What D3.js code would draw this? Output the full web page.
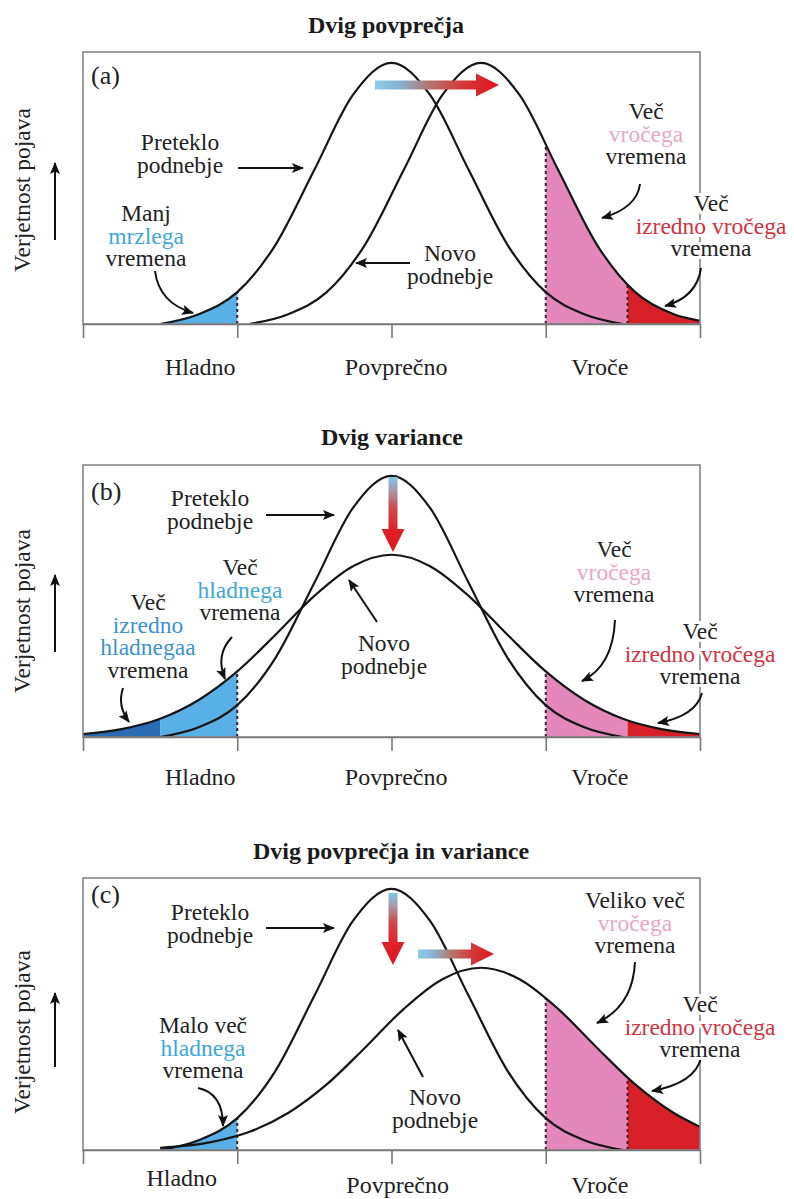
<!DOCTYPE html>
<html>
<head>
<meta charset="utf-8">
<title>Dvig povprečja in variance</title>
<script src="https://cdnjs.cloudflare.com/ajax/libs/d3/7.8.5/d3.min.js"></script>
<style>
	body { margin: 0; background: #fff; }
</style>
</head>
<body>
<div id="chart"></div>
<script>
(function () {
	'use strict';

	// x in temperature units (0 = povprečno), y = verjetnost (1 = top of panel)
	var xTicks = [-2, -1, 0, 1, 2];
	var tickLabels = ['Hladno', 'Povprečno', 'Vroče'];
	var panelTitles = ['Dvig povprečja', 'Dvig variance', 'Dvig povprečja in variance'];
	var panelLetters = ['(a)', '(b)', '(c)'];
	var yLabel = 'Verjetnost pojava';

	// preteklo podnebje - same curve in every panel
	var oldClimate = [[-1.5, 0], [-1.25, 0.036], [-1, 0.117], [-0.75, 0.293], [-0.5, 0.567], [-0.25, 0.842], [0, 0.96],
		[0.25, 0.842], [0.5, 0.567], [0.75, 0.293], [1, 0.117], [1.25, 0.036], [1.5, 0]];
	// novo podnebje
	var newClimateA = [[-0.92, 0], [-0.67, 0.036], [-0.42, 0.117], [-0.17, 0.293], [0.08, 0.567], [0.33, 0.842], [0.58, 0.96],
		[0.83, 0.842], [1.08, 0.567], [1.33, 0.293], [1.58, 0.117], [1.83, 0.036], [2, 0.012]];
	var newClimateB = [[-2, 0.011], [-1.75, 0.029], [-1.5, 0.067], [-1.25, 0.136], [-1, 0.241], [-0.75, 0.377], [-0.5, 0.519],
		[-0.25, 0.628], [0, 0.67], [0.25, 0.628], [0.5, 0.519], [0.75, 0.377], [1, 0.241], [1.25, 0.136], [1.5, 0.067],
		[1.75, 0.029], [2, 0.011]];
	var newClimateC = [[-1.5, 0.008], [-1.17, 0.029], [-0.92, 0.067], [-0.67, 0.136], [-0.42, 0.241], [-0.17, 0.377], [0.08, 0.519],
		[0.33, 0.628], [0.58, 0.67], [0.83, 0.628], [1.08, 0.519], [1.33, 0.377], [1.58, 0.241], [1.83, 0.136], [2, 0.085]];

	// class limits
	var extremeColdLimit = -1.5, coldLimit = -1, hotLimit = 1, extremeHotLimit = 1.53, axisEnd = 2;

	var BLUE = '#58b0e6', DARK_BLUE = '#2a6bb3', PINK = '#e488bb', RED = '#d71f27',
		TXT = '#222', TXT_BLUE = '#3ea6da', TXT_BLUE2 = '#3c92d0', TXT_PINK = '#eaa6c6', TXT_RED = '#d3323f';
	var FONT = '"Liberation Serif", "Times New Roman", Times, "DejaVu Serif", serif';

	var width = 794, height = 1199, panelHeight = 272;

	var svg = d3.select('#chart').append('svg')
		.attr('width', width)
		.attr('height', height)
		.attr('font-family', FONT)
		.style('font-family', FONT)
		.style('background', '#fff');
	var defs = svg.append('defs');

	var x = d3.scaleLinear().domain([-2, 2]).range([83, 700]);

	defs.append('marker')
		.attr('id', 'head')
		.attr('viewBox', '0 0 12 10')
		.attr('refX', 11)
		.attr('refY', 5)
		.attr('markerWidth', 13)
		.attr('markerHeight', 10)
		.attr('markerUnits', 'userSpaceOnUse')
		.attr('orient', 'auto')
		.append('path')
		.attr('d', 'M0,0 L12,5 L0,10 L2.5,5 z')
		.attr('fill', '#111');

	var panels = [
		{
			base: 324, titleY: 33, titleX: 386, letterY: 84,
			labelAt: [-1.24, 0.03, 1.35], labelY: [375, 375, 375],
			yLabelAt: 190, yArrow: [240, 163],
			fills: [
				{ curve: oldClimate, from: extremeColdLimit, to: coldLimit, color: BLUE },
				{ curve: newClimateA, from: hotLimit, to: extremeHotLimit, color: PINK },
				{ curve: newClimateA, from: extremeHotLimit, to: axisEnd, color: RED }
			],
			dashes: [
				{ curve: oldClimate, at: coldLimit },
				{ curve: newClimateA, at: hotLimit },
				{ curve: newClimateA, at: extremeHotLimit }
			],
			curves: [oldClimate, newClimateA],
			shifts: [{ dir: 'right', a: 375, b: 499, at: 85 }],
			notes: [
				{ x: 180, y: 150, lines: ['Preteklo', 'podnebje'] },
				{ x: 146, y: 221, lines: ['Manj', ['mrzlega', TXT_BLUE], 'vremena'] },
				{ x: 450, y: 261, lines: ['Novo', 'podnebje'] },
				{ x: 646, y: 119, lines: ['Več', ['vročega', TXT_PINK], 'vremena'] },
				{ x: 711, y: 211, lines: ['Več', ['izredno vročega', TXT_RED], 'vremena'], halo: true }
			],
			arrows: [
				[[238, 168], [303, 168]],
				[[410, 263], [356, 263]],
				[[155, 271], [159, 303], [193, 313]],
				[[640, 184], [637, 208], [602, 218]],
				[[701, 268], [697, 297], [665, 306]]
			]
		},
		{
			base: 737, titleY: 445, titleX: 392, letterY: 500,
			labelAt: [-1.24, 0.03, 1.35], labelY: [785, 785, 785],
			yLabelAt: 611, yArrow: [652, 575],
			fills: [
				{ curve: newClimateB, from: -2, to: extremeColdLimit, color: DARK_BLUE },
				{ curve: newClimateB, from: extremeColdLimit, to: coldLimit, color: BLUE },
				{ curve: newClimateB, from: hotLimit, to: extremeHotLimit, color: PINK },
				{ curve: newClimateB, from: extremeHotLimit, to: axisEnd, color: RED }
			],
			dashes: [
				{ curve: newClimateB, at: coldLimit },
				{ curve: newClimateB, at: hotLimit }
			],
			curves: [oldClimate, newClimateB],
			shifts: [{ dir: 'down', a: 477, b: 552, at: 393 }],
			notes: [
				{ x: 210, y: 506, lines: ['Preteklo', 'podnebje'] },
				{ x: 240, y: 575, lines: ['Več', ['hladnega', TXT_BLUE], 'vremena'] },
				{ x: 148, y: 610, lines: ['Več', ['izredno', TXT_BLUE2], ['hladnegaa', TXT_BLUE2], 'vremena'] },
				{ x: 384, y: 651, lines: ['Novo', 'podnebje'] },
				{ x: 614, y: 557, lines: ['Več', ['vročega', TXT_PINK], 'vremena'] },
				{ x: 700, y: 639, lines: ['Več', ['izredno vročega', TXT_RED], 'vremena'], halo: true }
			],
			arrows: [
				[[266, 515], [334, 515]],
				[[377, 622], [349, 580]],
				[[123, 688], [117, 706], [129, 722]],
				[[232, 637], [215, 655], [225, 679]],
				[[615, 620], [613, 666], [582, 681]],
				[[702, 693], [696, 716], [658, 723]]
			]
		},
		{
			base: 1150, titleY: 859, titleX: 391, letterY: 903,
			labelAt: [-1.36, 0.04, 1.35], labelY: [1186, 1193, 1193],
			yLabelAt: 1032, yArrow: [1067, 993],
			fills: [
				{ curve: oldClimate, from: extremeColdLimit, to: coldLimit, color: BLUE },
				{ curve: newClimateC, from: hotLimit, to: extremeHotLimit, color: PINK },
				{ curve: newClimateC, from: extremeHotLimit, to: axisEnd, color: RED }
			],
			dashes: [
				{ curve: oldClimate, at: coldLimit },
				{ curve: newClimateC, at: hotLimit },
				{ curve: newClimateC, at: extremeHotLimit }
			],
			curves: [oldClimate, newClimateC],
			shifts: [{ dir: 'down', a: 893, b: 965, at: 393 }, { dir: 'right', a: 418, b: 494, at: 954 }],
			notes: [
				{ x: 210, y: 920, lines: ['Preteklo', 'podnebje'] },
				{ x: 635, y: 908, lines: ['Veliko več', ['vročega', TXT_PINK], 'vremena'] },
				{ x: 700, y: 1012, lines: ['Več', ['izredno vročega', TXT_RED], 'vremena'], halo: true },
				{ x: 203, y: 1033, lines: ['Malo več', ['hladnega', TXT_BLUE], 'vremena'] },
				{ x: 435, y: 1105, lines: ['Novo', 'podnebje'] }
			],
			arrows: [
				[[266, 928], [334, 928]],
				[[423, 1077], [398, 1030]],
				[[635, 962], [633, 1006], [597, 1023]],
				[[701, 1058], [695, 1083], [652, 1091]],
				[[198, 1088], [223, 1093], [223, 1126]]
			]
		}
	];

	var clipId = 0;

	function drawPanel(p, i) {
		var g = svg.append('g').attr('class', 'panel');
		var y = d3.scaleLinear().domain([0, 1]).range([p.base, p.base - panelHeight]);

		var line = d3.line()
			.x(function (d) { return x(d[0]); })
			.y(function (d) { return y(d[1]); })
			.curve(d3.curveMonotoneX);
		var area = d3.area()
			.x(function (d) { return x(d[0]); })
			.y0(y(0))
			.y1(function (d) { return y(d[1]); })
			.curve(d3.curveMonotoneX);

		// coloured tails
		p.fills.forEach(function (f) {
			var id = 'clip' + (clipId++);
			defs.append('clipPath').attr('id', id)
				.append('rect')
				.attr('x', x(f.from))
				.attr('y', y(1))
				.attr('width', x(f.to) - x(f.from))
				.attr('height', panelHeight);
			g.append('path')
				.attr('d', area(f.curve))
				.attr('fill', f.color)
				.attr('clip-path', 'url(#' + id + ')');
		});

		// dashed limits, cut off at the curve
		p.dashes.forEach(function (dl) {
			var id = 'clip' + (clipId++);
			defs.append('clipPath').attr('id', id)
				.append('path').attr('d', area(dl.curve));
			g.append('line')
				.attr('x1', x(dl.at)).attr('x2', x(dl.at))
				.attr('y1', y(0)).attr('y2', y(1))
				.attr('stroke', '#3a1f35')
				.attr('stroke-width', 2)
				.attr('stroke-dasharray', '3,3')
				.attr('clip-path', 'url(#' + id + ')');
		});

		p.curves.forEach(function (c) {
			g.append('path')
				.attr('d', line(c))
				.attr('fill', 'none')
				.attr('stroke', '#151515')
				.attr('stroke-width', 2.2);
		});

		// frame + axis
		g.append('rect')
			.attr('x', x(-2)).attr('y', y(1))
			.attr('width', x(2) - x(-2)).attr('height', panelHeight)
			.attr('fill', 'none')
			.attr('stroke', '#858585')
			.attr('stroke-width', 1.6);

		var axis = g.append('g')
			.attr('transform', 'translate(0,' + y(0) + ')')
			.call(d3.axisBottom(x).tickValues(xTicks).tickSize(14).tickSizeOuter(0).tickFormat(''));
		axis.selectAll('path, line').attr('stroke', '#777').attr('stroke-width', 1.6);

		tickLabels.forEach(function (lbl, k) {
			g.append('text')
				.attr('x', x(p.labelAt[k]))
				.attr('y', p.labelY[k])
				.attr('text-anchor', 'middle')
				.attr('font-family', FONT)
				.attr('font-size', 24)
				.attr('fill', TXT)
				.text(lbl);
		});

		g.append('text')
			.attr('x', p.titleX)
			.attr('y', p.titleY)
			.attr('text-anchor', 'middle')
			.attr('font-family', FONT)
			.attr('font-size', 24)
			.attr('font-weight', 'bold')
			.attr('fill', '#1a1a1a')
			.text(panelTitles[i]);

		g.append('text')
			.attr('x', 91)
			.attr('y', p.letterY)
			.attr('font-family', FONT)
			.attr('font-size', 26)
			.attr('fill', TXT)
			.text(panelLetters[i]);

		// y label with its arrow
		g.append('text')
			.attr('transform', 'translate(30,' + p.yLabelAt + ') rotate(-90)')
			.attr('text-anchor', 'middle')
			.attr('font-family', FONT)
			.attr('font-size', 23.5)
			.attr('fill', TXT)
			.text(yLabel);
		g.append('line')
			.attr('x1', 55).attr('x2', 55)
			.attr('y1', p.yArrow[0]).attr('y2', p.yArrow[1])
			.attr('stroke', '#111')
			.attr('stroke-width', 2)
			.attr('marker-end', 'url(#head)');

		p.shifts.forEach(function (s) { shiftArrow(g, s); });

		p.arrows.forEach(function (a) {
			var path = d3.path();
			path.moveTo(a[0][0], a[0][1]);
			if (a.length === 2) path.lineTo(a[1][0], a[1][1]);
			else path.quadraticCurveTo(a[1][0], a[1][1], a[2][0], a[2][1]);
			g.append('path')
				.attr('d', path.toString())
				.attr('fill', 'none')
				.attr('stroke', '#111')
				.attr('stroke-width', 2)
				.attr('marker-end', 'url(#head)');
		});

		p.notes.forEach(function (n) { textBlock(g, n); });
	}

	// blue -> red shift arrows
	function shiftArrow(g, s) {
		var id = 'grad' + (clipId++);
		var right = s.dir === 'right';
		var grad = defs.append('linearGradient').attr('id', id)
			.attr('x1', 0).attr('y1', 0)
			.attr('x2', right ? 1 : 0).attr('y2', right ? 0 : 1);
		var stops = right
			? [[0, '#8ccbec'], [0.2, '#86b4cf'], [0.45, '#b5736b'], [0.7, '#d3393a'], [1, '#e1151d']]
			: [[0, '#86c3e8'], [0.18, '#a69aa8'], [0.4, '#cd4b4f'], [0.7, '#de2128'], [1, '#e1151d']];
		stops.forEach(function (st) {
			grad.append('stop').attr('offset', st[0]).attr('stop-color', st[1]);
		});

		var w = 4.5, hw = 11.5, hl = 23, pts;
		if (right) {
			pts = [[s.a, s.at - w], [s.b - hl, s.at - w], [s.b - hl, s.at - hw], [s.b, s.at],
				[s.b - hl, s.at + hw], [s.b - hl, s.at + w], [s.a, s.at + w]];
		} else {
			pts = [[s.at - w, s.a], [s.at - w, s.b - hl], [s.at - hw, s.b - hl], [s.at, s.b],
				[s.at + hw, s.b - hl], [s.at + w, s.b - hl], [s.at + w, s.a]];
		}
		g.append('path')
			.attr('d', d3.line()(pts) + 'Z')
			.attr('fill', 'url(#' + id + ')');
	}

	function textBlock(g, note) {
		var t = g.append('text')
			.attr('text-anchor', 'middle')
			.attr('font-family', FONT)
			.attr('font-size', 23.5);
		note.lines.forEach(function (ln, k) {
			var str = typeof ln === 'string' ? ln : ln[0];
			t.append('tspan')
				.attr('x', note.x)
				.attr('y', note.y + k * 22.5)
				.attr('fill', typeof ln === 'string' ? TXT : ln[1])
				.text(str);
		});
		if (note.halo) {
			t.attr('stroke', '#fff').attr('stroke-width', 6).attr('paint-order', 'stroke');
		}
	}

	panels.forEach(drawPanel);
})();
</script>
</body>
</html>
